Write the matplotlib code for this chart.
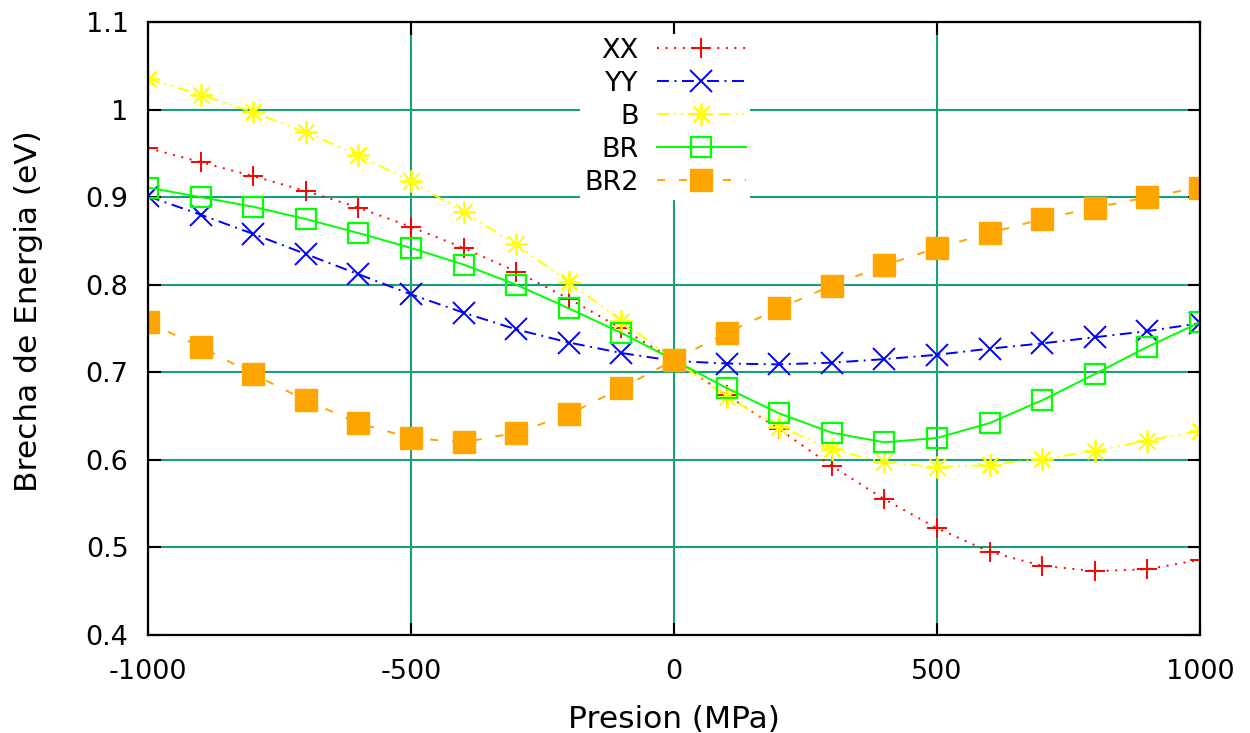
import numpy as np
import matplotlib
matplotlib.use('Agg')
import matplotlib.pyplot as plt

# presion aplicada (MPa)
presion = [-1000, -900, -800, -700, -600, -500, -400, -300, -200, -100, 0,
           100, 200, 300, 400, 500, 600, 700, 800, 900, 1000]

# brecha de energia (eV) para cada configuracion
gap_xx = [0.956, 0.940, 0.924, 0.907, 0.888, 0.866, 0.842, 0.815, 0.784, 0.750, 0.714,
          0.674, 0.635, 0.593, 0.555, 0.522, 0.495, 0.479, 0.473, 0.475, 0.486]
gap_yy = [0.901, 0.880, 0.858, 0.835, 0.812, 0.789, 0.768, 0.749, 0.734, 0.722, 0.713,
          0.710, 0.709, 0.711, 0.715, 0.720, 0.727, 0.733, 0.740, 0.747, 0.756]
gap_b = [1.035, 1.017, 0.997, 0.974, 0.948, 0.918, 0.883, 0.846, 0.803, 0.759, 0.714,
         0.672, 0.638, 0.612, 0.597, 0.592, 0.594, 0.601, 0.610, 0.622, 0.633]
gap_br = [0.911, 0.900, 0.889, 0.875, 0.859, 0.842, 0.823, 0.800, 0.773, 0.745, 0.714,
          0.682, 0.653, 0.631, 0.620, 0.625, 0.642, 0.668, 0.698, 0.729, 0.757]
gap_br2 = [0.757, 0.729, 0.698, 0.668, 0.642, 0.625, 0.620, 0.631, 0.652, 0.682, 0.714,
           0.745, 0.773, 0.799, 0.822, 0.842, 0.859, 0.875, 0.888, 0.900, 0.911]

x_ticks = [-1000, -500, 0, 500, 1000]
y_ticks = [0.4, 0.5, 0.6, 0.7, 0.8, 0.9, 1.0, 1.1]

plt.rcParams['font.family'] = 'DejaVu Sans'
plt.rcParams['lines.scale_dashes'] = False

fig = plt.figure(figsize=(12.5, 7.33), dpi=100)
ax = fig.add_axes([0.1184, 0.1337, 0.8416, 0.8363])

lw = 1.4
ax.plot(presion, gap_xx, color='#ff0000', lw=lw, dashes=(1.4, 4.8),
        marker='+', ms=14.5, mew=1.4, label='XX')
ax.plot(presion, gap_yy, color='#0000ff', lw=lw, dashes=(8.6, 4.0, 1.4, 4.0),
        marker='x', ms=16, mew=1.4, label='YY')
ax.plot(presion, gap_b, color='#ffff00', lw=lw, dashes=(8.6, 3.6, 1.4, 3.6, 1.4, 3.6),
        marker=(8, 2, 0), ms=16, mew=1.3, label='B')
ax.plot(presion, gap_br, color='#00ff00', lw=lw, linestyle='-',
        marker='s', ms=15, mew=1.6, mfc='none', label='BR')
ax.plot(presion, gap_br2, color='#ffa500', lw=lw, dashes=(5.8, 10.0),
        marker='s', ms=16, mew=1.0, label='BR2')

ax.set_xlim(-1000, 1000)
ax.set_ylim(0.4, 1.1)
ax.set_xticks(x_ticks)
ax.set_yticks(y_ticks)
ax.set_xticklabels([str(v) for v in x_ticks])
ax.set_yticklabels(['%g' % v for v in y_ticks])

ax.grid(True, color='#1a9f7c', lw=1.5)
ax.set_axisbelow(True)
ax.tick_params(direction='in', length=9, width=1.5, top=True, right=True,
               labelsize=19.5, colors='black')
ax.tick_params(axis='x', pad=17)
ax.tick_params(axis='y', pad=14)
for s in ax.spines.values():
    s.set_linewidth(1.6)
    s.set_zorder(5)

ax.set_xlabel('Presion (MPa)', fontsize=22.5)
ax.set_ylabel('Brecha de Energia (eV)', fontsize=22.5)
ax.xaxis.set_label_coords(0.5, -0.115)
ax.yaxis.set_label_coords(-0.100, 0.528)

leg = ax.legend(loc='upper center', bbox_to_anchor=(0.4915, 0.981),
                markerfirst=False, numpoints=1, fontsize=19.5,
                handlelength=3.3, handletextpad=0.67, labelspacing=0.26,
                borderpad=0.15, borderaxespad=0.0, frameon=True, fancybox=False,
                framealpha=1.0, facecolor='white', edgecolor='none')
leg.set_zorder(10)

fig.savefig('out.png', dpi=100)
